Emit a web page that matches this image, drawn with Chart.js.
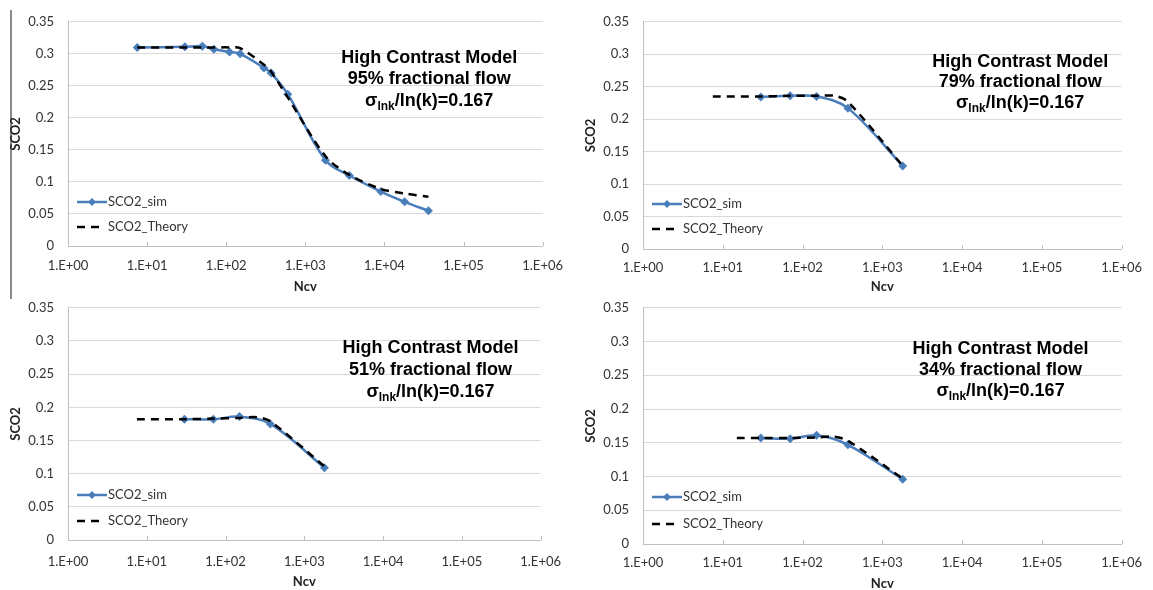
<!DOCTYPE html>
<html>
<head>
<meta charset="utf-8">
<script src="https://cdn.jsdelivr.net/npm/chart.js@4.4.1/dist/chart.umd.min.js"></script>
<style>
html, body { margin: 0; padding: 0; background: #fff; width: 1153px; height: 590px; overflow: hidden; }
canvas { position: absolute; }
#sideLine { position: absolute; left: 10px; top: 10px; width: 2px; height: 289px; background: #8a8a8a; }
</style>
</head>
<body>
<div id="sideLine"></div>
<canvas id="c95" width="575" height="298" style="left:0;top:0"></canvas>
<canvas id="c79" width="578" height="298" style="left:575px;top:0"></canvas>
<canvas id="c51" width="575" height="307" style="left:0;top:286px"></canvas>
<canvas id="c34" width="578" height="309" style="left:575px;top:286px"></canvas>
<script>
// axis ticks
var xTickValues = [1, 10, 100, 1000, 10000, 100000, 1000000];
var xTickLabels = ["1.E+00", "1.E+01", "1.E+02", "1.E+03", "1.E+04", "1.E+05", "1.E+06"];
var yTickValues = [0, 0.05, 0.1, 0.15, 0.2, 0.25, 0.3, 0.35];
var yTickLabels = ["0", "0.05", "0.1", "0.15", "0.2", "0.25", "0.3", "0.35"];

// 95% fractional flow
var ncv95 = [7.5, 30, 50, 70, 110, 150, 300, 370, 600, 1800, 3600, 9000, 18000, 36000];
var sim95 = [0.310, 0.311, 0.312, 0.307, 0.303, 0.300, 0.278, 0.270, 0.237, 0.134, 0.110, 0.085, 0.069, 0.055];
var theoryNcv95 = [7.5, 30, 50, 70, 110, 150, 300, 370, 600, 1800, 3600, 9000, 18000, 36000];
var theory95 = [0.310, 0.310, 0.310, 0.310, 0.310, 0.309, 0.283, 0.272, 0.232, 0.140, 0.111, 0.089, 0.082, 0.077];

// 79% fractional flow
var ncv79 = [30, 70, 150, 370, 1800];
var sim79 = [0.234, 0.236, 0.235, 0.217, 0.128];
var theoryNcv79 = [7.5, 30, 70, 150, 250, 370, 1800];
var theory79 = [0.235, 0.235, 0.236, 0.236, 0.236, 0.227, 0.128];

// 51% fractional flow
var ncv51 = [30, 70, 150, 370, 1800];
var sim51 = [0.182, 0.182, 0.186, 0.175, 0.109];
var theoryNcv51 = [7.5, 30, 70, 150, 250, 370, 1800];
var theory51 = [0.182, 0.182, 0.183, 0.184, 0.185, 0.179, 0.111];

// 34% fractional flow
var ncv34 = [30, 70, 150, 370, 1800];
var sim34 = [0.157, 0.156, 0.161, 0.147, 0.096];
var theoryNcv34 = [15, 30, 70, 150, 250, 370, 1800];
var theory34 = [0.157, 0.157, 0.157, 0.158, 0.159, 0.153, 0.097];

var titleLine1 = "High Contrast Model";
var sigmaParts = ["\u03c3", "lnk", "/ln(k)=0.167"];

var simColor = "#4a7ebb";
var gridColor = "#d9d9d9";
var axisColor = "#bfbfbf";
var textColor = "#333333";

Chart.defaults.font.family = "Lato, 'Liberation Sans', sans-serif";
Chart.defaults.color = textColor;

function toPoints(xs, ys) {
    return xs.map(function (x, i) { return { x: x, y: ys[i] }; });
}

var extrasPlugin = {
    id: "extras",
    beforeDatasetsDraw: function (chart) {
        // small inside tick marks on the x axis
        var ctx = chart.ctx, area = chart.chartArea, xs = chart.scales.x;
        ctx.save();
        ctx.strokeStyle = axisColor;
        ctx.lineWidth = 1;
        xs.ticks.forEach(function (t, i) {
            var px = Math.round(xs.getPixelForTick(i)) + 0.5;
            ctx.beginPath();
            ctx.moveTo(px, area.bottom - 4);
            ctx.lineTo(px, area.bottom);
            ctx.stroke();
        });
        ctx.restore();
    },
    afterDraw: function (chart, args, opts) {
        var ctx = chart.ctx, area = chart.chartArea;
        var ds = chart.data.datasets;
        ctx.save();

        // legend, inside the plot at lower left
        var lx = area.left + 9;
        var y1 = area.bottom + opts.legendY[0];
        var y2 = area.bottom + opts.legendY[1];
        ctx.lineWidth = 2.5;
        ctx.strokeStyle = ds[0].borderColor;
        ctx.beginPath();
        ctx.moveTo(lx, y1);
        ctx.lineTo(lx + 30, y1);
        ctx.stroke();
        ctx.fillStyle = ds[0].borderColor;
        ctx.beginPath();
        ctx.moveTo(lx + 15, y1 - 4);
        ctx.lineTo(lx + 19, y1);
        ctx.lineTo(lx + 15, y1 + 4);
        ctx.lineTo(lx + 11, y1);
        ctx.closePath();
        ctx.fill();
        ctx.strokeStyle = ds[1].borderColor;
        ctx.setLineDash(ds[1].borderDash);
        ctx.beginPath();
        ctx.moveTo(lx, y2);
        ctx.lineTo(lx + 23, y2);
        ctx.stroke();
        ctx.setLineDash([]);
        ctx.fillStyle = textColor;
        ctx.font = "13px Lato";
        ctx.textBaseline = "middle";
        ctx.textAlign = "left";
        ctx.fillText(ds[0].label, lx + 31, y1);
        ctx.fillText(ds[1].label, lx + 31, y2);

        // title block
        var cx = area.left + opts.titleX * (area.right - area.left);
        var big = "bold 18px 'Liberation Sans'", small = "bold 12px 'Liberation Sans'";
        ctx.fillStyle = "#000";
        ctx.textAlign = "center";
        ctx.font = big;
        ctx.fillText(titleLine1, cx, area.top + opts.titleY[0]);
        ctx.fillText(opts.flowText, cx, area.top + opts.titleY[1]);
        var w1 = ctx.measureText(sigmaParts[0]).width;
        var w3 = ctx.measureText(sigmaParts[2]).width;
        ctx.font = small;
        var w2 = ctx.measureText(sigmaParts[1]).width;
        var sx = cx - (w1 + w2 + w3) / 2;
        var sy = area.top + opts.titleY[2];
        ctx.textAlign = "left";
        ctx.font = big;
        ctx.fillText(sigmaParts[0], sx, sy);
        ctx.font = small;
        ctx.fillText(sigmaParts[1], sx + w1, sy + 6);
        ctx.font = big;
        ctx.fillText(sigmaParts[2], sx + w1 + w2, sy);
        ctx.restore();
    }
};

function makePanel(id, p) {
    var ctx = document.getElementById(id).getContext("2d");
    return new Chart(ctx, {
        type: "line",
        data: {
            datasets: [
                {
                    label: "SCO2_sim",
                    data: toPoints(p.ncv, p.sim),
                    borderColor: simColor,
                    backgroundColor: simColor,
                    borderWidth: 2.5,
                    pointStyle: "rectRot",
                    pointRadius: 4.5,
                    pointBorderWidth: 0,
                    tension: 0.35,
                    order: 1
                },
                {
                    label: "SCO2_Theory",
                    data: toPoints(p.theoryNcv, p.theory),
                    borderColor: "#000000",
                    borderDash: [8, 6],
                    borderWidth: 2.5,
                    pointRadius: 0,
                    tension: 0.3,
                    order: 0
                }
            ]
        },
        options: {
            responsive: false,
            animation: false,
            events: [],
            layout: { padding: { top: p.padTop, right: p.padRight, left: 0, bottom: 0 } },
            plugins: {
                legend: { display: false },
                tooltip: { enabled: false },
                extras: {
                    flowText: p.flowText,
                    titleX: p.titleX,
                    titleY: p.titleY,
                    legendY: p.legendY
                }
            },
            scales: {
                x: {
                    type: "logarithmic",
                    min: 1,
                    max: 1000000,
                    afterBuildTicks: function (scale) {
                        scale.ticks = xTickValues.map(function (v) { return { value: v }; });
                    },
                    afterFit: function (scale) { scale.height = p.xAxisH; },
                    grid: { display: false, drawTicks: false },
                    border: { display: true, color: axisColor, width: 1 },
                    ticks: {
                        autoSkip: false,
                        maxRotation: 0,
                        padding: p.tickPad,
                        color: textColor,
                        font: { size: 13 },
                        callback: function (v, i) { return xTickLabels[i]; }
                    },
                    title: {
                        display: true,
                        text: "Ncv",
                        color: "#222",
                        font: { size: 13, weight: "bold" },
                        padding: { top: 3, bottom: 3 }
                    }
                },
                y: {
                    min: 0,
                    max: 0.35,
                    afterBuildTicks: function (scale) {
                        scale.ticks = yTickValues.map(function (v) { return { value: v }; });
                    },
                    afterFit: function (scale) { scale.width = 68; },
                    grid: { color: gridColor, drawTicks: false },
                    border: { display: true, color: axisColor, width: 1 },
                    ticks: {
                        padding: 14,
                        color: textColor,
                        font: { size: 13 },
                        callback: function (v, i) { return yTickLabels[i]; }
                    },
                    title: {
                        display: true,
                        text: "SCO2",
                        color: "#222",
                        font: { size: 13, weight: "bold" },
                        padding: { top: 8, bottom: 0 }
                    }
                }
            }
        },
        plugins: [extrasPlugin]
    });
}

makePanel("c95", {
    ncv: ncv95, sim: sim95, theoryNcv: theoryNcv95, theory: theory95,
    flowText: "95% fractional flow",
    padTop: 16, padRight: 26, xAxisH: 52, tickPad: 12,
    titleX: 0.761, titleY: [36, 57, 79], legendY: [-44, -19]
});
makePanel("c79", {
    ncv: ncv79, sim: sim79, theoryNcv: theoryNcv79, theory: theory79,
    flowText: "79% fractional flow",
    padTop: 16, padRight: 28, xAxisH: 49, tickPad: 11,
    titleX: 0.788, titleY: [40, 60, 81], legendY: [-45, -20]
});
makePanel("c51", {
    ncv: ncv51, sim: sim51, theoryNcv: theoryNcv51, theory: theory51,
    flowText: "51% fractional flow",
    padTop: 16, padRight: 26, xAxisH: 53, tickPad: 14,
    titleX: 0.767, titleY: [40, 62, 84], legendY: [-45, -19]
});
makePanel("c34", {
    ncv: ncv34, sim: sim34, theoryNcv: theoryNcv34, theory: theory34,
    flowText: "34% fractional flow",
    padTop: 17, padRight: 28, xAxisH: 51, tickPad: 11,
    titleX: 0.747, titleY: [41, 62, 83], legendY: [-47, -20]
});
</script>
</body>
</html>
